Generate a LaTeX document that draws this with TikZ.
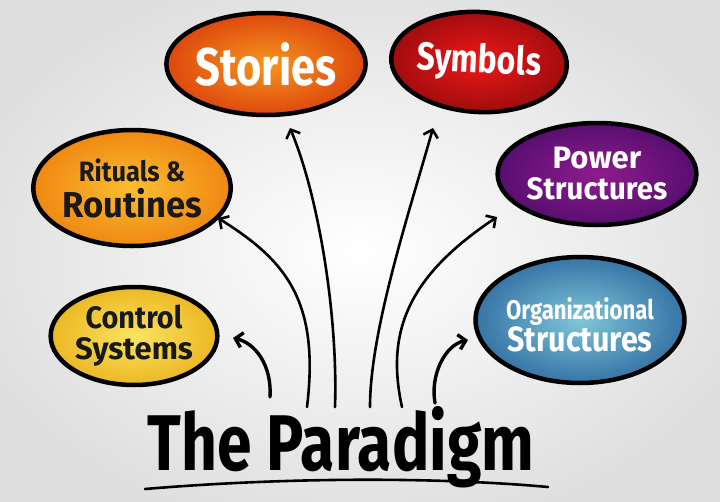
\documentclass[tikz,border=0pt]{standalone}
\usepackage{fontspec}
\setmainfont{Fira Sans}
\usetikzlibrary{shapes.geometric,arrows.meta}
\newcommand\sq[1]{\scalebox{.82}[1]{#1}}
\tikzset{
  bubble/.style={ellipse, draw=black, line width=4.5pt, inner sep=0pt, align=center},
  whitetxt/.style={text=white},
  darktxt/.style={text=black!90},
  arr/.style={line width=2.6pt, -{Straight Barb[length=7pt,width=15pt]}, line cap=round},
  arrthick/.style={arr, line width=3.4pt},
}
\begin{document}
\begin{tikzpicture}[x=1pt,y=-1pt]
\useasboundingbox (0,0) rectangle (720,501);
\shade[inner color=white, outer color=black!13] (-60,-40) rectangle (780,541);

% bubbles
\node[bubble, minimum width=192pt, minimum height=102pt,
      inner color={rgb,255:red,246;green,150;blue,30}, outer color={rgb,255:red,222;green,72;blue,14}, shade,
      whitetxt, font=\fontsize{53}{53}\selectfont\bfseries] (stories) at (266,64) {\sq{Stories}};
\node[bubble, minimum width=158pt, minimum height=100pt, rotate=-3,
      inner color={rgb,255:red,238;green,24;blue,24}, outer color={rgb,255:red,160;green,12;blue,14}, shade,
      whitetxt, font=\fontsize{39}{39}\selectfont\bfseries] (symbols) at (479,62) {\sq{Symbols}};
\node[bubble, minimum width=176pt, minimum height=116pt,
      inner color={rgb,255:red,250;green,190;blue,50}, outer color={rgb,255:red,240;green,136;blue,18}, shade,
      darktxt, font=\fontsize{36}{36}\selectfont\bfseries] (rituals) at (132,188) {\scalebox{.91}[1]{\fontsize{28}{36}\selectfont Rituals \&}\\\scalebox{.96}[1]{Routines}};
\node[bubble, minimum width=158pt, minimum height=98pt,
      inner color={rgb,255:red,250;green,228;blue,96}, outer color={rgb,255:red,236;green,184;blue,36}, shade,
      darktxt, font=\fontsize{31}{31}\selectfont\bfseries] (control) at (134,336) {\scalebox{.93}[1]{Control}\\Systems};
\node[bubble, minimum width=180pt, minimum height=102pt,
      inner color={rgb,255:red,142;green,28;blue,140}, outer color={rgb,255:red,88;green,14;blue,112}, shade,
      whitetxt, font=\fontsize{31}{31}\selectfont\bfseries] (power) at (597,174) {Power\\\scalebox{.95}[1]{Structures}};
\node[bubble, minimum width=184pt, minimum height=126pt,
      inner color={rgb,255:red,128;green,198;blue,216}, outer color={rgb,255:red,54;green,116;blue,166}, shade,
      whitetxt, font=\fontsize{35}{30}\selectfont\bfseries] (org) at (580,320) {\rule{0pt}{31pt}\sq{\fontsize{27}{30}\selectfont Organizational}\\\scalebox{.87}[1]{Structures}};

% title
\node[anchor=base, inner sep=0pt, font=\fontsize{79}{79}\selectfont\bfseries, text=black] (para) at (341,470) {\scalebox{.79}[1]{The Paradigm}};

% arrow ends
\coordinate (s1) at (270,397); \coordinate (t1) at (233,338);
\coordinate (s2) at (307,407); \coordinate (t2) at (218,218);
\coordinate (s3) at (335,407); \coordinate (t3) at (290,128);
\coordinate (s4) at (370,407); \coordinate (t4) at (433,128);
\coordinate (s5) at (402,407); \coordinate (t5) at (497,217);
\coordinate (s6) at (435,403); \coordinate (t6) at (468,340);
\coordinate (u1) at (145,489); \coordinate (u2) at (548,487);

\draw[arrthick] (s1) .. controls (272,365) and (255,343) .. (t1);
\draw[arr] (s2) .. controls (320,300) and (285,260) .. (t2);
\draw[arr] (s3) .. controls (338,320) and (320,200) .. (t3);
\draw[arr] (s4) .. controls (370,330) and (410,210) .. (t4);
\draw[arr] (s5) .. controls (385,330) and (410,275) .. (t5);
\draw[arrthick] (s6) .. controls (430,375) and (445,345) .. (t6);

% underline
\draw[line width=2.6pt, line cap=round] (u1) .. controls (300,476) and (450,478) .. (u2);
\end{tikzpicture}
\end{document}
